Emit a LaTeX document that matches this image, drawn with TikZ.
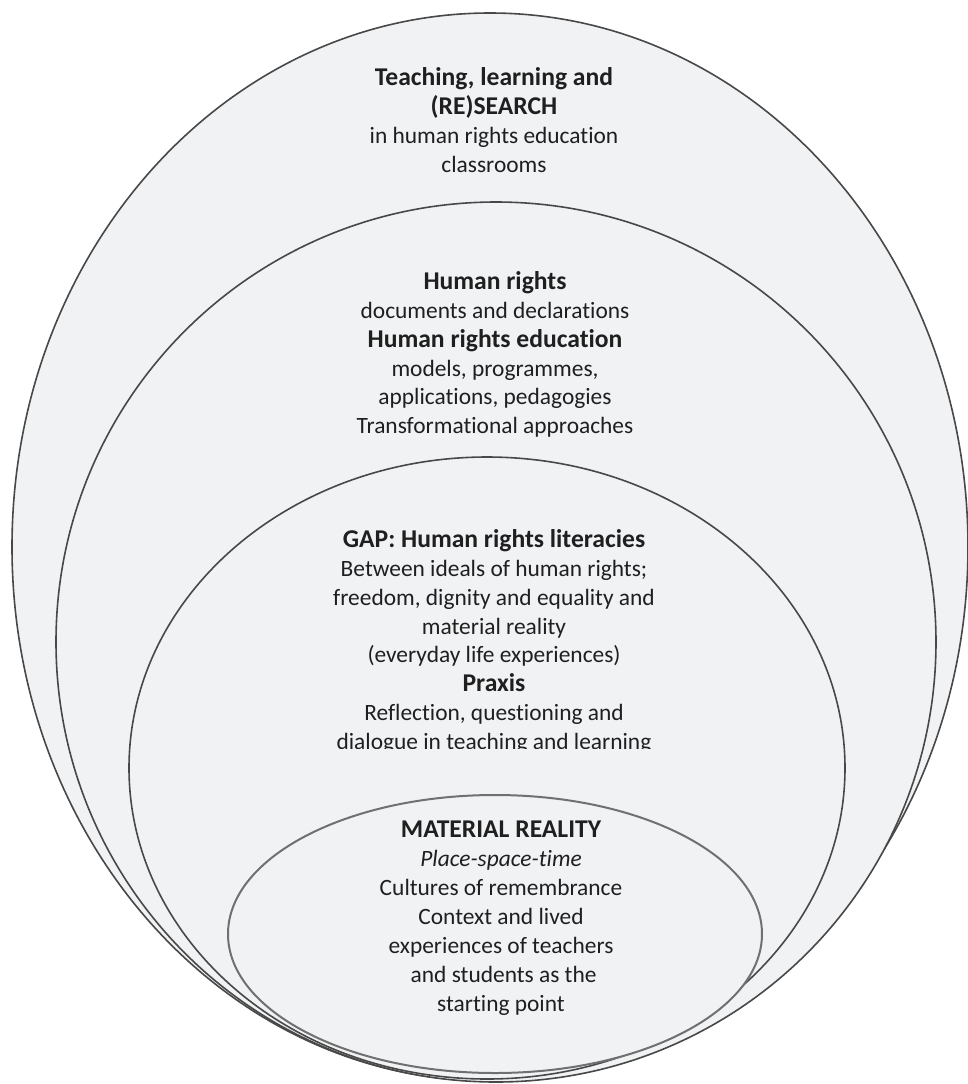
\documentclass[tikz,border=0pt]{standalone}
\usepackage{fontspec}
\setmainfont{Carlito}[Ligatures=NoCommon]
\definecolor{ringfill}{RGB}{241,242,244}
\definecolor{ringdraw}{RGB}{72,72,72}
\definecolor{coredraw}{RGB}{112,112,112}
\newcommand{\hd}[1]{{\fontsize{12.8}{14.45}\selectfont\bfseries #1}}
\begin{document}
\begin{tikzpicture}[x=0.5pt,y=-0.5pt,
    ring/.style={draw=ringdraw, fill=ringfill, line width=0.8pt},
    corering/.style={draw=coredraw, fill=ringfill, line width=1pt},
    textblock/.style={align=center, inner sep=0pt, text=black!88, font=\fontsize{11.7}{14.45}\selectfont}
    ]
    \useasboundingbox (0,0) rectangle (968,1084);
    \fill[white] (0,0) rectangle (968,1084);
    
    \draw [ring] (490,547) ellipse [x radius=478, y radius=534];
    \draw [ring] (496,642) ellipse [x radius=440, y radius=440];
    \draw [ring] (487,768) ellipse [x radius=358, y radius=311];
    \draw [corering] (495,934) ellipse [x radius=267, y radius=139];
    
    \node [textblock] (research) at (494,120) {\hd{Teaching, learning and}\\ \hd{(RE)SEARCH}\\ in human rights education\\ classrooms};
    \node [textblock] (hre) at (495,354.5) {\hd{Human rights}\\ documents and declarations\\ \hd{Human rights education}\\ models, programmes,\\ applications, pedagogies\\ Transformational approaches};
    \begin{scope}
      \clip (0,0) rectangle (968,748);
      \node [textblock] (gap) at (494,641.5) {\hd{GAP: Human rights literacies}\\ Between ideals of human rights;\\ freedom, dignity and equality and\\ material reality\\ (everyday life experiences)\\ \hd{Praxis}\\ Reflection, questioning and\\ dialogue in teaching and learning};
    \end{scope}
    \node [textblock] (reality) at (501,918) {\hd{MATERIAL REALITY}\\ \textit{Place-space-time}\\ Cultures of remembrance\\ Context and lived\\ experiences of teachers\\ \ and students as the\\ starting point};
  \end{tikzpicture}
\end{document}
